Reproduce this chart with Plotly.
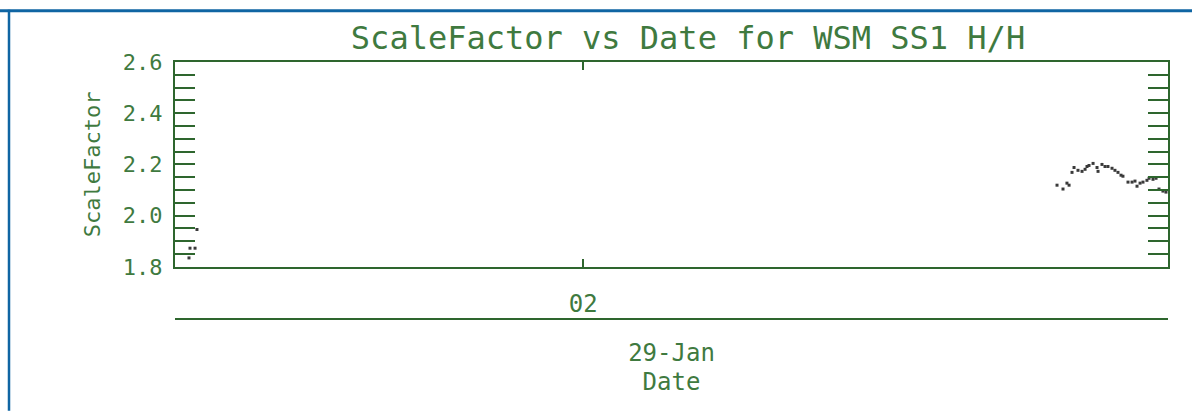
import plotly.graph_objects as go

# ---- data ----
times = [
    "2010-01-29 00:48:32", "2010-01-29 00:48:43", "2010-01-29 00:49:38", "2010-01-29 00:49:59",
    "2010-01-29 03:25:53", "2010-01-29 03:26:58", "2010-01-29 03:27:41", "2010-01-29 03:28:04",
    "2010-01-29 03:28:36", "2010-01-29 03:28:58", "2010-01-29 03:29:41", "2010-01-29 03:30:25",
    "2010-01-29 03:30:58", "2010-01-29 03:31:19", "2010-01-29 03:31:41", "2010-01-29 03:32:25",
    "2010-01-29 03:33:08", "2010-01-29 03:33:19", "2010-01-29 03:34:02", "2010-01-29 03:34:35",
    "2010-01-29 03:35:07", "2010-01-29 03:35:51", "2010-01-29 03:36:23", "2010-01-29 03:36:56",
    "2010-01-29 03:37:29", "2010-01-29 03:37:50", "2010-01-29 03:38:45", "2010-01-29 03:39:29",
    "2010-01-29 03:40:01", "2010-01-29 03:40:23", "2010-01-29 03:40:56", "2010-01-29 03:41:28",
    "2010-01-29 03:42:11", "2010-01-29 03:42:34", "2010-01-29 03:43:17", "2010-01-29 03:43:50",
    "2010-01-29 03:44:22", "2010-01-29 03:45:05", "2010-01-29 03:45:38",
]
scale_factor = [
    1.835, 1.873, 1.873, 1.946,
    2.119, 2.104, 2.127, 2.119,
    2.169, 2.188, 2.177, 2.173,
    2.181, 2.192, 2.196, 2.204,
    2.188, 2.173, 2.200, 2.192,
    2.192, 2.185, 2.177, 2.169,
    2.158, 2.154, 2.131, 2.131,
    2.135, 2.115, 2.127, 2.131,
    2.138, 2.146, 2.142, 2.146,
    2.104, 2.096, 2.092,
]
x_range = ["2010-01-29 00:46", "2010-01-29 03:46"]
hour_ticks = ["2010-01-29 02:00"]
hour_labels = ["02"]
day_ticks = ["2010-01-29 02:16"]
day_labels = ["29-Jan"]
y_range = [1.8, 2.6]
y_ticks = [1.8, 2.0, 2.2, 2.4, 2.6]

title_text = "ScaleFactor vs Date for WSM SS1 H/H"

LINE = "#2e662e"
TEXT = "#3f7a3f"
FONT = "DejaVu Sans Mono"

# ---- geometry (pixels) ----
W, H = 1192, 416
L, R, T, B = 175, 1168, 62, 396   # paper extents
plot_bottom = 270
axis2_y = 323
paper_h = B - T
paper_w = R - L
ydom0 = (B - plot_bottom) / paper_h
pos2 = (B - axis2_y) / paper_h

def px_x(x):
    return (x - L) / paper_w

def px_y(y):
    return (B - y) / paper_h

fig = go.Figure()
fig.add_trace(go.Scatter(
    x=times, y=scale_factor, mode="markers",
    marker=dict(color="#3a3a3a", size=3, symbol="square"),
    showlegend=False, hoverinfo="x+y",
))
# invisible trace to activate xaxis2
fig.add_trace(go.Scatter(x=[x_range[0]], y=[None], xaxis="x2", yaxis="y",
                         mode="markers", showlegend=False, hoverinfo="skip"))

fig.update_layout(
    width=W, height=H,
    margin=dict(l=L, r=W - R, t=T, b=H - B, pad=0),
    paper_bgcolor="white", plot_bgcolor="white",
    font=dict(family=FONT, color=TEXT, size=22),
    title=dict(text=title_text, xref="container", x=688 / W, xanchor="center",
               yref="container", y=1 - 38 / H, yanchor="middle",
               font=dict(family=FONT, size=32, color=TEXT)),
    xaxis=dict(
        type="date", range=x_range, domain=[0, 1],
        tickvals=hour_ticks, ticktext=hour_labels,
        ticks="inside", ticklen=8, tickwidth=2, tickcolor=LINE,
        showline=True, linecolor=LINE, linewidth=2, mirror="allticks",
        showgrid=False, zeroline=False, anchor="y",
        tickfont=dict(size=24, color=TEXT, family=FONT),
        ticklabelstandoff=14,
    ),
    xaxis2=dict(
        type="date", range=x_range, overlaying="x", anchor="free",
        position=pos2, side="bottom",
        tickvals=day_ticks, ticktext=day_labels, ticks="",
        showline=True, linecolor=LINE, linewidth=2,
        showgrid=False, zeroline=False,
        tickfont=dict(size=24, color=TEXT, family=FONT),
        ticklabelstandoff=12,
        title=dict(text="Date", font=dict(size=24, color=TEXT, family=FONT), standoff=6),
    ),
    yaxis=dict(
        range=y_range, domain=[ydom0, 1],
        tickvals=y_ticks, ticktext=[f"{v:.1f}" for v in y_ticks],
        ticks="inside", ticklen=20, tickwidth=2, tickcolor=LINE,
        minor=dict(dtick=0.05, ticks="inside", ticklen=10, tickwidth=2,
                   tickcolor=LINE, showgrid=False),
        showline=True, linecolor=LINE, linewidth=2, mirror="allticks",
        showgrid=False, zeroline=False,
        tickfont=dict(size=22, color=TEXT, family=FONT),
        ticklabelstandoff=6,
        title=dict(text="ScaleFactor", font=dict(size=22, color=TEXT, family=FONT),
                   standoff=16),
    ),
    shapes=[
        dict(type="line", xref="paper", yref="paper",
             x0=px_x(0), x1=px_x(W), y0=px_y(10), y1=px_y(10),
             line=dict(color="#0f65a3", width=3)),
        dict(type="line", xref="paper", yref="paper",
             x0=px_x(9), x1=px_x(9), y0=px_y(9), y1=px_y(H),
             line=dict(color="#0f65a3", width=2.5)),
    ],
)

fig.write_html("out.html", config={"displayModeBar": False},
               post_script="document.body.style.margin='0';document.body.style.overflow='hidden';")
